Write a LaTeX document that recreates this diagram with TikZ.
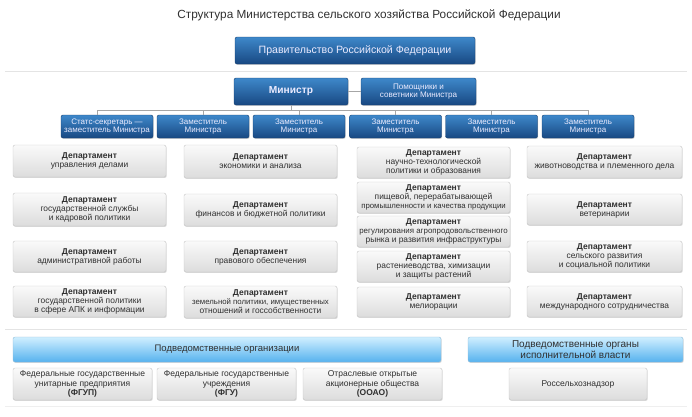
\documentclass[tikz,border=0pt]{standalone}
\usepackage{fontspec}
\setmainfont{Liberation Sans}
\usetikzlibrary{shadows}

\definecolor{deepblue}{RGB}{24,72,130}
\definecolor{midblue}{RGB}{62,136,202}
\definecolor{skytop}{RGB}{208,239,255}
\definecolor{skybot}{RGB}{86,178,238}
\definecolor{boxtop}{RGB}{250,250,250}
\definecolor{boxbot}{RGB}{220,220,220}
\definecolor{edgegray}{RGB}{196,196,196}
\definecolor{txtgray}{RGB}{48,48,48}
\definecolor{seplight}{RGB}{228,228,228}

\begin{document}
\begin{tikzpicture}[x=1pt,y=-1pt,
  bluebox/.style={rounded corners=2pt, top color=midblue, bottom color=deepblue, draw=deepblue!85!black,
    text=white!92!blue, align=center, inner sep=0pt,
    drop shadow={shadow xshift=0.7pt, shadow yshift=-0.9pt, opacity=0.35}},
  depbox/.style={bluebox, minimum width=92pt, minimum height=23pt, font=\fontsize{8}{8.8}\selectfont},
  deptbox/.style={rounded corners=2pt, top color=boxtop, bottom color=boxbot, draw=edgegray,
    text=txtgray, align=center, inner sep=0pt, minimum width=153pt, minimum height=32pt,
    font=\fontsize{8.4}{9.1}\selectfont,
    drop shadow={shadow xshift=0.7pt, shadow yshift=-0.9pt, opacity=0.3}},
  skybar/.style={rounded corners=2pt, top color=skytop, bottom color=skybot, draw=skybot!80!black!60,
    text=txtgray, align=center, inner sep=0pt, minimum height=25pt,
    drop shadow={shadow xshift=0.7pt, shadow yshift=-0.9pt, opacity=0.3}},
  orgbox/.style={deptbox, minimum width=139pt, font=\fontsize{8.5}{9.2}\selectfont},
  tree/.style={draw=gray!70, line width=0.6pt},
  sepline/.style={draw=seplight, line width=0.8pt}
]
\useasboundingbox (0,0) rectangle (692,416);

% Title
\node (title) at (369,15) [text=txtgray, font=\fontsize{11.8}{13}\selectfont] {Структура Министерства сельского хозяйства Российской Федерации};

%Shape: Rectangle (government)
\node (gov) at (355,50.5) [bluebox, minimum width=240pt, minimum height=27pt, font=\fontsize{10.6}{12}\selectfont] {Правительство Российской Федерации};
%Straight Lines
\draw [sepline] (5,71.5) -- (687,71.5);

%Shape: Rectangle (minister and aides)
\node (minister) at (291,91.5) [bluebox, minimum width=114pt, minimum height=27pt, font=\bfseries\fontsize{10.2}{12}\selectfont] {Министр};
\node (aides) at (418.5,91.5) [bluebox, minimum width=115pt, minimum height=27pt, font=\fontsize{8.1}{8.8}\selectfont] {Помощники и\\советники Министра};

%Shape: Rectangle (deputies)
\node (dep1) at (107,126.5) [depbox] {Статс-секретарь —\\заместитель Министра};
\node (dep2) at (203,126.5) [depbox] {Заместитель\\Министра};
\node (dep3) at (299,126.5) [depbox] {Заместитель\\Министра};
\node (dep4) at (395.5,126.5) [depbox] {Заместитель\\Министра};
\node (dep5) at (491.5,126.5) [depbox] {Заместитель\\Министра};
\node (dep6) at (588,126.5) [depbox] {Заместитель\\Министра};

%Straight Lines (tree)
\coordinate (busL) at (97,110);
\coordinate (busR) at (588,110);
\draw [tree] (minister.east) -- (aides.west);
\draw [tree] (busL) -- (busR);
\draw [tree] (minister.south) -- (minister.south |- busL);
\draw [tree] (busL) -- (busL |- dep1.north);
\foreach \d in {dep2,dep3,dep4,dep5,dep6}
  \draw [tree] (\d.north |- busL) -- (\d.north);

%Shape: Rectangle (departments, column 1)
\node (dAdm) at (89.5,161) [deptbox] {{\bfseries\fontsize{8.5}{9.1}\selectfont Департамент}\\управления делами};
\node (dGos) at (89.5,209.5) [deptbox, minimum height=33pt] {{\bfseries\fontsize{8.5}{9.1}\selectfont Департамент}\\государственной службы\\и кадровой политики};
\node (dWork) at (89.5,256.5) [deptbox, minimum height=31pt] {{\bfseries\fontsize{8.5}{9.1}\selectfont Департамент}\\административной работы};
\node (dApk) at (89.5,301.5) [deptbox, minimum height=31pt] {{\bfseries\fontsize{8.5}{9.1}\selectfont Департамент}\\государственной политики\\в сфере АПК и информации};

%Shape: Rectangle (departments, column 2)
\node (dEco) at (260.5,161.5) [deptbox, minimum height=33pt] {{\bfseries\fontsize{8.5}{9.1}\selectfont Департамент}\\экономики и анализа};
\node (dFin) at (260.5,210) [deptbox] {{\bfseries\fontsize{8.5}{9.1}\selectfont Департамент}\\финансов и бюджетной политики};
\node (dLaw) at (260.5,256.5) [deptbox, minimum height=31pt] {{\bfseries\fontsize{8.5}{9.1}\selectfont Департамент}\\правового обеспечения};
\node (dLand) at (260.5,302) [deptbox] {{\bfseries\fontsize{8.5}{9.1}\selectfont Департамент}\\{\fontsize{7.8}{9.1}\selectfont земельной политики, имущественных}\\отношений и госсобственности};

%Shape: Rectangle (departments, column 3)
\node (dSci) at (433.5,162.5) [deptbox, minimum height=31pt] {{\bfseries\fontsize{8.5}{9.1}\selectfont Департамент}\\научно-технологической\\политики и образования};
\node (dFood) at (433.5,197.5) [deptbox, minimum height=31pt] {{\bfseries\fontsize{8.5}{9.1}\selectfont Департамент}\\пищевой, перерабатывающей\\{\fontsize{7.8}{9.1}\selectfont промышленности и качества продукции}};
\node (dMkt) at (433.5,231.5) [deptbox, minimum height=31pt] {{\bfseries\fontsize{8.5}{9.1}\selectfont Департамент}\\{\fontsize{7.9}{9.1}\selectfont регулирования агропродовольственного}\\рынка и развития инфраструктуры};
\node (dCrop) at (433.5,266.5) [deptbox, minimum height=31pt] {{\bfseries\fontsize{8.5}{9.1}\selectfont Департамент}\\растениеводства, химизации\\и защиты растений};
\node (dMel) at (433.5,302) [deptbox, minimum height=30pt] {{\bfseries\fontsize{8.5}{9.1}\selectfont Департамент}\\мелиорации};

%Shape: Rectangle (departments, column 4)
\node (dLive) at (604.5,162) [deptbox, minimum width=155pt] {{\bfseries\fontsize{8.5}{9.1}\selectfont Департамент}\\животноводства и племенного дела};
\node (dVet) at (604.5,209.5) [deptbox, minimum width=155pt, minimum height=31pt] {{\bfseries\fontsize{8.5}{9.1}\selectfont Департамент}\\ветеринарии};
\node (dRur) at (604.5,256.5) [deptbox, minimum width=155pt, minimum height=31pt] {{\bfseries\fontsize{8.5}{9.1}\selectfont Департамент}\\сельского развития\\и социальной политики};
\node (dInt) at (604.5,301.5) [deptbox, minimum width=155pt, minimum height=31pt] {{\bfseries\fontsize{8.5}{9.1}\selectfont Департамент}\\международного сотрудничества};

%Straight Lines
\draw [sepline] (5,329.5) -- (687,329.5);

%Shape: Rectangle (subordinate bodies)
\node (orgs) at (227,349.5) [skybar, minimum width=428pt, font=\fontsize{9.5}{10}\selectfont] {Подведомственные организации};
\node (exec) at (575.5,349.5) [skybar, minimum width=215pt, font=\fontsize{10}{9.2}\selectfont] {Подведомственные органы\\исполнительной власти};
\node (fgup) at (82.5,384) [orgbox] {Федеральные государственные\\унитарные предприятия\\{\bfseries (ФГУП)}};
\node (fgu) at (226.5,384) [orgbox] {Федеральные государственные\\учреждения\\{\bfseries (ФГУ)}};
\node (ooao) at (372.5,384) [orgbox] {Отраслевые открытые\\акционерные общества\\{\bfseries (ООАО)}};
\node (rsn) at (578,384) [orgbox, minimum width=138pt] {Россельхознадзор};

%Straight Lines
\draw [sepline, draw=seplight!60] (5,406.5) -- (687,406.5);

\end{tikzpicture}
\end{document}
